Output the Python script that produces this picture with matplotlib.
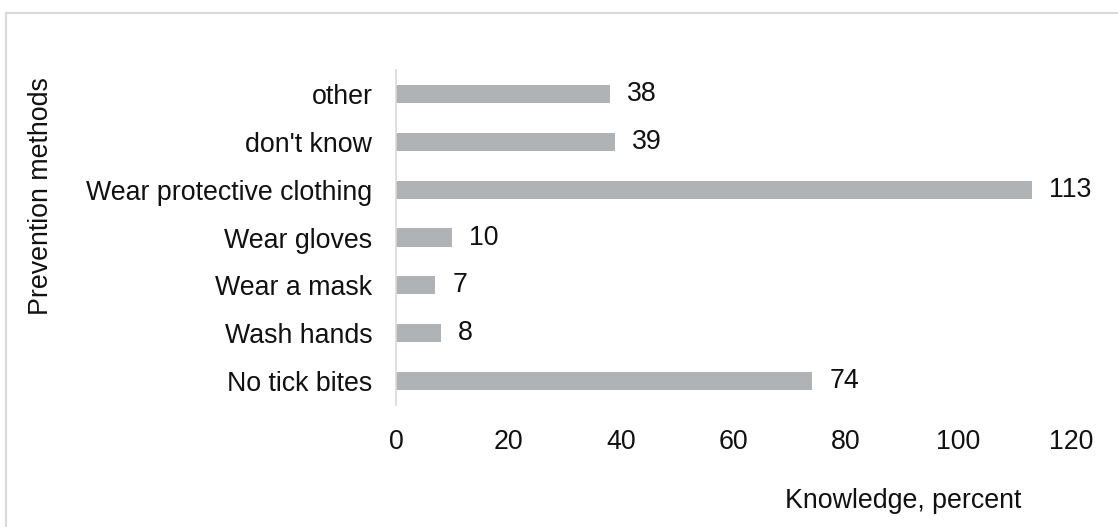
import matplotlib
matplotlib.use("Agg")
import matplotlib.pyplot as plt
from matplotlib.patches import Rectangle

methods = ["No tick bites", "Wash hands", "Wear a mask", "Wear gloves",
           "Wear protective clothing", "don't know", "other"]
values = [74, 8, 7, 10, 113, 39, 38]
xticks = [0, 20, 40, 60, 80, 100, 120]

plt.rcParams["font.family"] = ["Liberation Sans", "DejaVu Sans"]
fs = 19.3

fig = plt.figure(figsize=(11.18, 5.27), dpi=100)
ax = fig.add_axes([0.3542, 0.2315, 0.6038, 0.6355])

ax.barh(range(len(methods)), values, height=0.38, color="#b0b3b6")
for i, v in enumerate(values):
    ax.annotate(str(v), (v, i), xytext=(17, 0), textcoords="offset pixels",
                va="center", ha="left", fontsize=fs, color="#111111")

ax.set_xlim(0, 120)
ax.set_ylim(-0.5, 6.5)
ax.set_xticks(xticks)
ax.set_yticks(range(len(methods)))
ax.set_yticklabels(methods)
ax.tick_params(axis="both", length=0, labelsize=fs, colors="#111111")
ax.tick_params(axis="x", pad=17)
ax.tick_params(axis="y", pad=17)
for s in ["top", "right", "bottom"]:
    ax.spines[s].set_visible(False)
ax.spines["left"].set_color("#d9d9d9")
ax.spines["left"].set_linewidth(1.2)

fig.text(0.037, 0.628, "Prevention methods", rotation=90, ha="center",
         va="center", fontsize=fs, color="#111111")
fig.text(0.808, 0.050, "Knowledge, percent", ha="center", va="center",
         fontsize=fs, color="#111111")

# light frame around the chart area
fig.patches.append(Rectangle((6 / 1118, -0.05), 1.0, 1 - 13 / 527 + 0.05,
                             transform=fig.transFigure, fill=False,
                             edgecolor="#d9d9d9", linewidth=1.5))

fig.savefig("out.png", dpi=100)
